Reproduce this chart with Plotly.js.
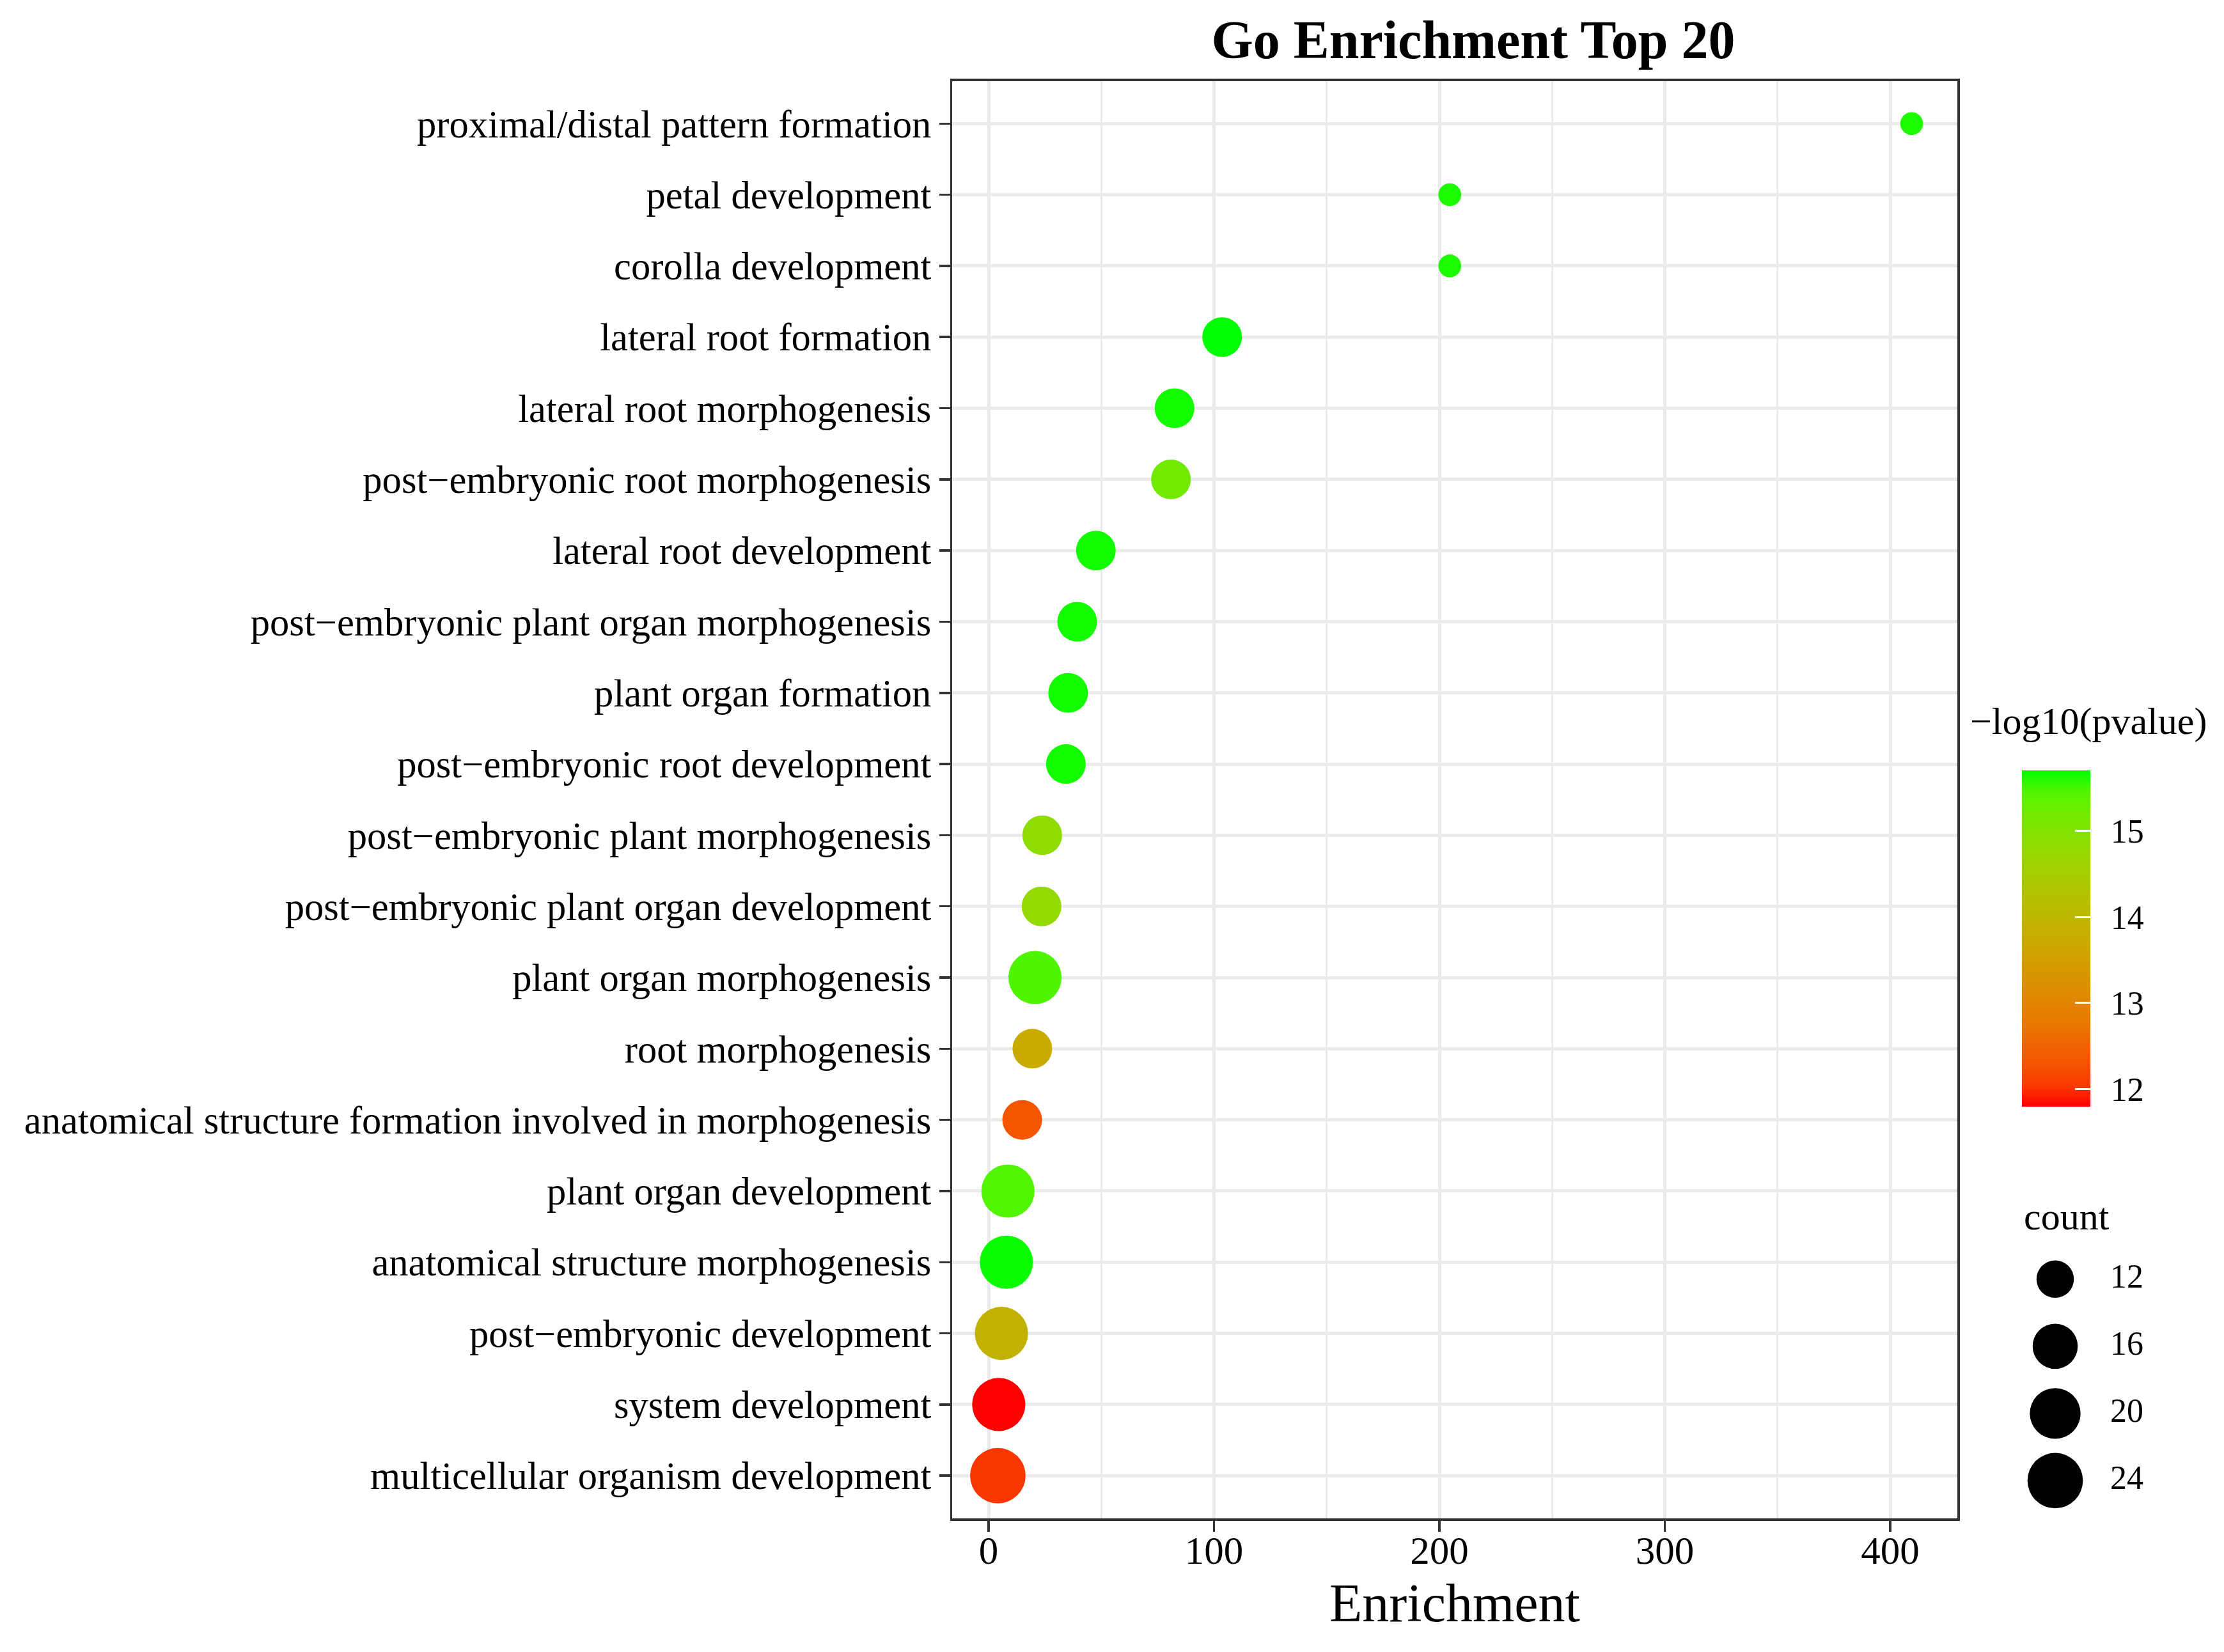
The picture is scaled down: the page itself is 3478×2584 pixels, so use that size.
<!DOCTYPE html>
<html>
<head>
<meta charset="utf-8">
<script src="https://cdn.plot.ly/plotly-3.0.1.min.js"></script>
<style>html,body{margin:0;padding:0;background:#fff;}#chart{width:3478px;height:2584px;}</style>
</head>
<body>
<div id="chart"></div>
<script>
// ---- data (top to bottom) ----
const terms = [
  "proximal/distal pattern formation",
  "petal development",
  "corolla development",
  "lateral root formation",
  "lateral root morphogenesis",
  "post\u2212embryonic root morphogenesis",
  "lateral root development",
  "post\u2212embryonic plant organ morphogenesis",
  "plant organ formation",
  "post\u2212embryonic root development",
  "post\u2212embryonic plant morphogenesis",
  "post\u2212embryonic plant organ development",
  "plant organ morphogenesis",
  "root morphogenesis",
  "anatomical structure formation involved in morphogenesis",
  "plant organ development",
  "anatomical structure morphogenesis",
  "post\u2212embryonic development",
  "system development",
  "multicellular organism development"
];
const enrichment = [409.5, 204.6, 204.6, 103.6, 82.5, 80.9, 47.6, 39.3, 35.3, 34.3,
                    23.8, 23.5, 20.6, 19.4, 14.9, 8.6, 7.9, 5.7, 4.5, 4.1];
const counts = [9, 9, 9, 13, 13, 13, 13, 13, 13, 13,
                13, 13, 22, 13, 13, 22, 22, 22, 22, 24];
const negLogP = [15.62, 15.62, 15.62, 15.707, 15.65, 15.20, 15.65, 15.65, 15.65, 15.65,
                 14.85, 14.78, 15.47, 13.75, 12.31, 15.46, 15.68, 13.90, 11.797, 12.03];
const colorTicks = [12, 13, 14, 15];
const sizeBreaks = [12, 16, 20, 24];
const sizeLabels = ["12", "16", "20", "24"];

// ---- styling / scales ----
const W = 3478, H = 2584;
const FONT = "Liberation Serif, Times New Roman, serif";
const cMin = Math.min(...counts), cMax = Math.max(...counts);
function diam(c) { return 35.7 + 51 * Math.sqrt((c - cMin) / (cMax - cMin)); }
const pMin = Math.min(...negLogP), pMax = Math.max(...negLogP);
const xMin = Math.min(...enrichment), xMax = Math.max(...enrichment);
const xPad = 0.05 * (xMax - xMin);

// red -> green interpolated in Lab (like ggplot scale_colour_gradient)
const colorscale = [
  [0.0, "rgb(255,0,0)"], [0.0625, "rgb(250,58,0)"], [0.125, "rgb(244,83,0)"],
  [0.25, "rgb(232,119,0)"], [0.375, "rgb(218,146,0)"], [0.5, "rgb(201,171,0)"],
  [0.625, "rgb(179,194,0)"], [0.75, "rgb(152,215,0)"], [0.875, "rgb(112,235,0)"],
  [0.9375, "rgb(81,245,0)"], [1.0, "rgb(0,255,0)"]
];

// plot panel in pixels
const pL = 1489, pR = 3061, pT = 126.5, pB = 2375;

const main = {
  type: "scatter", mode: "markers",
  x: enrichment, y: terms,
  xaxis: "x", yaxis: "y",
  marker: {
    size: counts.map(diam),
    color: negLogP, colorscale: colorscale, cmin: pMin, cmax: pMax,
    line: {width: 0}, opacity: 1,
    showscale: true,
    colorbar: {
      xref: "container", yref: "container",
      x: 3162 / W, xanchor: "left", xpad: 0,
      y: 1 - 1467.7 / H, yanchor: "middle", ypad: 0,
      len: 525.6, lenmode: "pixels",
      thickness: 107, thicknessmode: "pixels",
      outlinewidth: 0,
      tickvals: colorTicks, ticktext: colorTicks.map(v => "\u2009\u2009" + v),
      ticks: "inside", ticklen: 24, tickwidth: 3, tickcolor: "#ffffff",
      tickfont: {family: FONT, size: 52, color: "#000"}
    }
  },
  hoverinfo: "skip", showlegend: false
};

const sizeLegend = {
  type: "scatter", mode: "markers",
  x: sizeBreaks.map(() => 0.5), y: sizeBreaks,
  xaxis: "x2", yaxis: "y2",
  marker: {size: sizeBreaks.map(diam), color: "#000000", opacity: 1, line: {width: 0}},
  hoverinfo: "skip", showlegend: false, cliponaxis: false
};
const sizeLegendText = {
  type: "scatter", mode: "text",
  x: sizeBreaks.map(() => 0.93), y: sizeBreaks,
  text: sizeLabels, textposition: "middle right",
  textfont: {family: FONT, size: 52, color: "#000"},
  xaxis: "x2", yaxis: "y2",
  hoverinfo: "skip", showlegend: false, cliponaxis: false
};

const layout = {
  width: W, height: H,
  margin: {l: 0, r: 0, t: 0, b: 0, autoexpand: false},
  paper_bgcolor: "#ffffff", plot_bgcolor: "#ffffff",
  font: {family: FONT, color: "#000"},
  showlegend: false,
  title: {
    text: "Go Enrichment Top 20",
    font: {family: FONT, size: 84, color: "#000", weight: "bold"},
    xref: "container", yref: "container",
    x: 2304 / W, xanchor: "center", y: 1 - 62 / H, yanchor: "middle"
  },
  xaxis: {
    domain: [pL / W, pR / W],
    range: [xMin - xPad, xMax + xPad],
    tick0: 0, dtick: 100,
    showgrid: true, gridcolor: "#EBEBEB", gridwidth: 5,
    minor: {tick0: 0, dtick: 50, showgrid: true, gridcolor: "#EBEBEB", gridwidth: 3, ticks: ""},
    zeroline: false,
    showline: true, mirror: true, linecolor: "#333333", linewidth: 3.5,
    ticks: "outside", ticklen: 17, tickwidth: 3.5, tickcolor: "#333333",
    ticklabelstandoff: -23,
    tickfont: {family: FONT, size: 61, color: "#000"},
    title: {text: "Enrichment", font: {family: FONT, size: 84, color: "#000"}, standoff: 20},
    automargin: false, anchor: "y", fixedrange: true
  },
  yaxis: {
    domain: [1 - pB / H, 1 - pT / H],
    type: "category", categoryorder: "array", categoryarray: terms,
    range: [terms.length - 0.4, -0.6],
    showgrid: true, gridcolor: "#EBEBEB", gridwidth: 5,
    zeroline: false,
    showline: true, mirror: true, linecolor: "#333333", linewidth: 3.5,
    ticks: "outside", ticklen: 17, tickwidth: 3.5, tickcolor: "#333333",
    ticklabelstandoff: 0,
    tickfont: {family: FONT, size: 60.6, color: "#000"},
    automargin: false, anchor: "x", fixedrange: true
  },
  xaxis2: {
    domain: [3114 / W, 3314 / W], range: [0, 1],
    visible: false, showgrid: false, zeroline: false, anchor: "y2", fixedrange: true
  },
  yaxis2: {
    domain: [1 - 2368.5 / H, 1 - 1948.2 / H], range: [26, 10],
    visible: false, showgrid: false, zeroline: false, anchor: "x2", fixedrange: true
  },
  annotations: [
    {text: "\u2212log10(pvalue)", xref: "paper", yref: "paper",
     x: 3266 / W, xanchor: "center", y: 1 - 1128 / H, yanchor: "middle",
     showarrow: false, font: {family: FONT, size: 60, color: "#000"}},
    {text: "count", xref: "paper", yref: "paper",
     x: 3163 / W, xanchor: "left", y: 1 - 1903 / H, yanchor: "middle",
     showarrow: false, font: {family: FONT, size: 60, color: "#000"}}
  ]
};

Plotly.newPlot("chart", [main, sizeLegend, sizeLegendText], layout,
  {displayModeBar: false, staticPlot: true});
</script>
</body>
</html>
